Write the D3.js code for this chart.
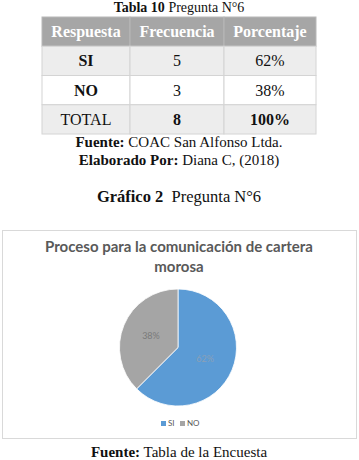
<!DOCTYPE html>
<html>
<head>
<meta charset="utf-8">
<script src="https://cdn.jsdelivr.net/npm/d3@7"></script>
<style>
  body { margin: 0; background: #fff; }
  svg { display: block; }
</style>
</head>
<body>
<div id="chart"></div>
<script>
'use strict';

// Table data
const headers = ['Respuesta', 'Frecuencia', 'Porcentaje'];
const respuestas = ['SI', 'NO', 'TOTAL'];
const frecuencias = ['5', '3', '8'];
const porcentajes = ['62%', '38%', '100%'];

// Pie data
const categories = ['SI', 'NO'];
const values = [5, 3];
const pctLabels = ['62%', '38%'];
const colors = ['#5b9bd5', '#a5a5a5'];

const W = 359, H = 460;
const serif = '"Liberation Serif", "Times New Roman", serif';
const sans = 'Lato, "Open Sans", sans-serif';

const svg = d3.select('#chart').append('svg')
  .attr('width', W)
  .attr('height', H);

// Caption above table
const cap = svg.append('text')
  .attr('x', 179).attr('y', 12)
  .attr('text-anchor', 'middle')
  .style('font-family', serif).style('font-size', '14px').style('fill', '#111');
cap.append('tspan').style('font-weight', 'bold').text('Tabla 10');
cap.append('tspan').text(' Pregunta N°6');

// Table
const colX = d3.scaleOrdinal().domain(headers).range([42, 130, 224]);
const colW = d3.scaleOrdinal().domain(headers).range([88, 94, 92]);
const rowY = d3.scaleBand().domain(['head'].concat(respuestas)).range([17, 134]);

const rowFill = { head: '#a6a6a6', SI: '#ededed', NO: '#ffffff', TOTAL: '#ededed' };

const rows = [{ key: 'head', cells: headers }].concat(
  respuestas.map((r, i) => ({ key: r, cells: [r, frecuencias[i], porcentajes[i]] }))
);

const boldCell = (rowKey, j) => {
  if (rowKey === 'head') return true;
  if (rowKey === 'TOTAL') return j > 0;
  return j === 0;
};

const tbl = svg.append('g');
rows.forEach(row => {
  headers.forEach((h, j) => {
    tbl.append('rect')
      .attr('x', colX(h)).attr('y', rowY(row.key))
      .attr('width', colW(h)).attr('height', rowY.bandwidth())
      .attr('fill', rowFill[row.key])
      .attr('stroke', row.key === 'head' ? '#b8b8b8' : '#d4d4d4')
      .attr('stroke-width', 1);
    tbl.append('text')
      .attr('x', colX(h) + colW(h) / 2)
      .attr('y', rowY(row.key) + rowY.bandwidth() / 2 + 5.5)
      .attr('text-anchor', 'middle')
      .style('font-family', serif)
      .style('font-size', '16px')
      .style('font-weight', boldCell(row.key, j) ? 'bold' : 'normal')
      .style('fill', row.key === 'head' ? '#ffffff' : '#111')
      .text(row.cells[j]);
  });
});

// Notes under table
function note(y, boldPart, rest, size) {
  const t = svg.append('text')
    .attr('x', 179).attr('y', y)
    .attr('text-anchor', 'middle')
    .style('font-family', serif).style('font-size', size + 'px').style('fill', '#111');
  t.append('tspan').style('font-weight', 'bold').text(boldPart);
  t.append('tspan').text(rest);
}
note(147, 'Fuente:', ' COAC San Alfonso Ltda.', 15);
note(165, 'Elaborado Por:', ' Diana C, (2018)', 15);
note(202, 'Gráfico 2', '\u00a0 Pregunta N°6', 16.5);
note(457, 'Fuente:', ' Tabla de la Encuesta', 15);

// Chart frame
svg.append('rect')
  .attr('x', 2.5).attr('y', 230.5)
  .attr('width', 354).attr('height', 208)
  .attr('fill', '#fff')
  .attr('stroke', '#d9d9d9');

// Chart title
const titleLines = ['Proceso para la comunicación de cartera', 'morosa'];
svg.append('g').selectAll('text')
  .data(titleLines)
  .join('text')
  .attr('x', 179)
  .attr('y', (d, i) => 252 + i * 20)
  .attr('text-anchor', 'middle')
  .style('font-family', sans)
  .style('font-size', '15px')
  .style('font-weight', 'bold')
  .style('fill', '#595959')
  .text(d => d);

// Pie
const cx = 178, cy = 347.5, R = 58.5;
const pie = d3.pie().sort(null).value(d => d);
const arc = d3.arc().innerRadius(0).outerRadius(R);
const arcs = pie(values);

const pg = svg.append('g').attr('transform', `translate(${cx},${cy})`);
pg.selectAll('path')
  .data(arcs)
  .join('path')
  .attr('d', arc)
  .attr('fill', (d, i) => colors[i])
  .attr('stroke', '#fff')
  .attr('stroke-width', 0.8);

pg.selectAll('text.lbl')
  .data(arcs)
  .join('text')
  .attr('class', 'lbl')
  .attr('transform', d => `translate(${arc.centroid(d)})`)
  .attr('dy', '0.35em')
  .attr('text-anchor', 'middle')
  .style('font-family', sans)
  .style('font-size', '9px')
  .style('fill', (d, i) => i === 0 ? '#8aa0b8' : '#7a7a7a')
  .text((d, i) => pctLabels[i]);

// Legend
const legX = d3.scaleOrdinal().domain(categories).range([161, 180]);
const leg = svg.append('g').selectAll('g')
  .data(categories)
  .join('g')
  .attr('transform', d => `translate(${legX(d)},426)`);
leg.append('rect')
  .attr('x', 0).attr('y', -5)
  .attr('width', 5).attr('height', 5)
  .attr('fill', (d, i) => colors[i]);
leg.append('text')
  .attr('x', 7).attr('y', 0)
  .style('font-family', sans)
  .style('font-size', '8px')
  .style('fill', '#595959')
  .text(d => d);
</script>
</body>
</html>
